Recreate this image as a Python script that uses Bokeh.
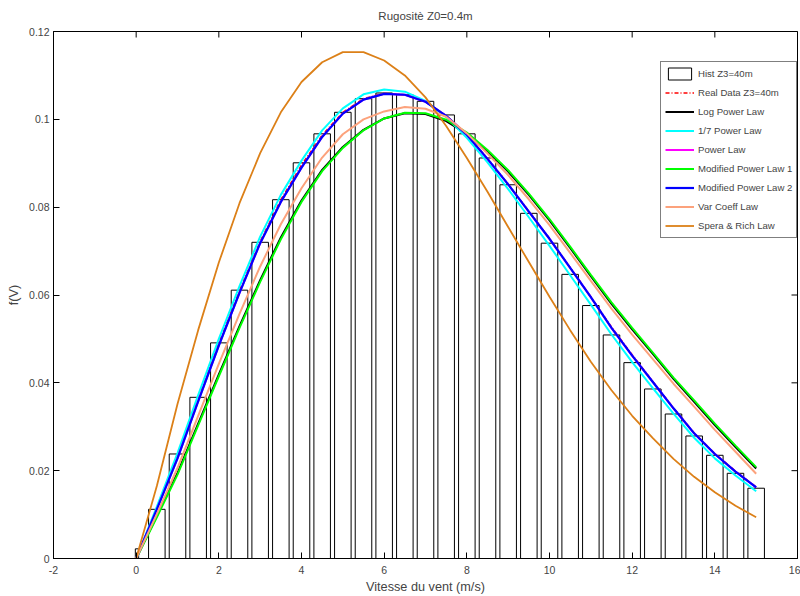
import math
from bokeh.plotting import figure
from bokeh.models import FixedTicker, Legend, LegendItem, Range1d, ColumnDataSource
from bokeh.embed import file_html
from bokeh.resources import INLINE

title_text = "Rugositè Z0=0.4m"
x_label = "Vitesse du vent (m/s)"
y_label = "f(V)"

x_ticks = [-2, 0, 2, 4, 6, 8, 10, 12, 14, 16]
x_tick_labels = ["-2", "0", "2", "4", "6", "8", "10", "12", "14", "16"]
y_ticks = [0, 0.02, 0.04, 0.06, 0.08, 0.1, 0.12]
y_tick_labels = ["0", "0.02", "0.04", "0.06", "0.08", "0.1", "0.12"]

# histogram (bin centres, relative frequency)
bin_centers = [0, 0.5, 1, 1.5, 2, 2.5, 3, 3.5, 4, 4.5, 5, 5.5, 6, 6.5, 7, 7.5,
               8, 8.5, 9, 9.5, 10, 10.5, 11, 11.5, 12, 12.5, 13, 13.5, 14, 14.5, 15]
hist_heights = [0.0022, 0.0112, 0.0238, 0.0367, 0.0491, 0.0611, 0.0720, 0.0817,
                0.0901, 0.0967, 0.1016, 0.1047, 0.1060, 0.1056, 0.1041, 0.1010,
                0.0967, 0.0912, 0.0851, 0.0786, 0.0718, 0.0647, 0.0576, 0.0509,
                0.0446, 0.0386, 0.0329, 0.0279, 0.0235, 0.0194, 0.0160]

# curves
speed = [0, 0.5, 1, 1.5, 2, 2.5, 3, 3.5, 4, 4.5, 5, 5.5, 6, 6.5, 7, 7.5,
         8, 8.5, 9, 9.5, 10, 10.5, 11, 11.5, 12, 12.5, 13, 13.5, 14, 14.5, 15]
real_data = [0, 0.0115, 0.0232, 0.0362, 0.0490, 0.0610, 0.0722, 0.0817, 0.0896,
             0.0964, 0.1016, 0.1047, 0.1059, 0.1056, 0.1040, 0.1008, 0.0965,
             0.0911, 0.0853, 0.0791, 0.0729, 0.0663, 0.0596, 0.0527, 0.0464,
             0.0403, 0.0343, 0.0286, 0.0239, 0.0199, 0.0163]
log_power_law = [0, 0.0097, 0.0195, 0.0307, 0.0419, 0.0529, 0.0634, 0.0731, 0.0815,
                 0.0885, 0.0937, 0.0976, 0.1002, 0.1014, 0.1012, 0.0996, 0.0967,
                 0.0927, 0.0881, 0.0828, 0.0770, 0.0707, 0.0643, 0.0580, 0.0522,
                 0.0466, 0.0409, 0.0357, 0.0304, 0.0254, 0.0205]
seventh_power_law = [0, 0.0118, 0.0240, 0.0372, 0.0500, 0.0620, 0.0733, 0.0828, 0.0906,
                     0.0975, 0.1025, 0.1057, 0.1068, 0.1063, 0.1042, 0.1005, 0.0958,
                     0.0902, 0.0841, 0.0777, 0.0712, 0.0645, 0.0578, 0.0510, 0.0447,
                     0.0388, 0.0330, 0.0275, 0.0228, 0.0189, 0.0153]
power_law = [0, 0.0112, 0.0228, 0.0358, 0.0485, 0.0605, 0.0718, 0.0812, 0.0890,
             0.0960, 0.1013, 0.1045, 0.1058, 0.1056, 0.1040, 0.1008, 0.0965,
             0.0910, 0.0852, 0.0790, 0.0728, 0.0662, 0.0595, 0.0525, 0.0462,
             0.0402, 0.0342, 0.0285, 0.0238, 0.0198, 0.0162]
modified_power_law_1 = [0, 0.0094, 0.0191, 0.0303, 0.0415, 0.0525, 0.0630, 0.0727, 0.0812,
                        0.0882, 0.0935, 0.0975, 0.1002, 0.1015, 0.1014, 0.0999, 0.0970,
                        0.0930, 0.0884, 0.0831, 0.0773, 0.0710, 0.0646, 0.0583, 0.0525,
                        0.0469, 0.0412, 0.0360, 0.0307, 0.0257, 0.0208]
modified_power_law_2 = [0, 0.0112, 0.0228, 0.0358, 0.0485, 0.0605, 0.0718, 0.0812, 0.0890,
                        0.0960, 0.1013, 0.1045, 0.1058, 0.1056, 0.1040, 0.1008, 0.0965,
                        0.0910, 0.0852, 0.0790, 0.0728, 0.0662, 0.0595, 0.0525, 0.0462,
                        0.0402, 0.0342, 0.0285, 0.0238, 0.0198, 0.0162]
var_coeff_law = [0, 0.0101, 0.0206, 0.0325, 0.0443, 0.0557, 0.0665, 0.0761, 0.0843,
                 0.0913, 0.0966, 0.1000, 0.1018, 0.1028, 0.1024, 0.1006, 0.0968,
                 0.0922, 0.0873, 0.0818, 0.0759, 0.0696, 0.0632, 0.0569, 0.0510,
                 0.0454, 0.0398, 0.0346, 0.0293, 0.0243, 0.0193]
spera_rich_law = [0, 0.0165, 0.0352, 0.0520, 0.0674, 0.0809, 0.0923, 0.1016, 0.1085,
                  0.1130, 0.1153, 0.1153, 0.1134, 0.1100, 0.1050, 0.0985, 0.0912,
                  0.0835, 0.0755, 0.0675, 0.0596, 0.0520, 0.0448, 0.0383, 0.0325,
                  0.0274, 0.0227, 0.0186, 0.0151, 0.0120, 0.0094]

FONT = "Liberation Sans"
X_MIN, X_MAX = x_ticks[0], x_ticks[-1]
Y_MIN, Y_MAX = y_ticks[0], y_ticks[-1]

p = figure(width=800, height=596, output_backend="svg", toolbar_location=None,
           x_range=Range1d(X_MIN, X_MAX), y_range=Range1d(Y_MIN, Y_MAX),
           min_border_left=53, min_border_right=3, min_border_top=31, min_border_bottom=38,
           title=title_text)
p.title.align = "center"
p.title.vertical_align = "top"
p.title.text_font = FONT
p.title.text_font_size = "11.5px"
p.title.text_font_style = "normal"
p.title.standoff = 16
p.xgrid.visible = False
p.ygrid.visible = False
p.outline_line_color = "black"
p.outline_line_width = 1
p.background_fill_color = "white"
p.border_fill_color = "white"

for ax, ticks, labels, lab in ((p.xaxis[0], x_ticks, x_tick_labels, x_label),
                               (p.yaxis[0], y_ticks, y_tick_labels, y_label)):
    ax.ticker = FixedTicker(ticks=ticks)
    ax.major_label_overrides = {t: l for t, l in zip(ticks, labels)}
    ax.axis_label = lab
    ax.axis_label_text_font = FONT
    ax.axis_label_text_font_size = "12.7px"
    ax.axis_label_text_font_style = "normal"
    ax.major_label_text_font = FONT
    ax.major_label_text_font_size = "10.5px"
    ax.major_tick_in = 6
    ax.major_tick_out = 0
    ax.minor_tick_line_color = None
    ax.axis_line_color = "black"
    ax.major_tick_line_color = "black"

p.xaxis.major_label_standoff = 7
p.xaxis.axis_label_standoff = 3
p.yaxis.major_label_standoff = 4
p.yaxis.axis_label_standoff = 5

# mirrored inward ticks on the top and right edges (box style)
p.scatter(x=x_ticks, y=[Y_MAX] * len(x_ticks), marker="dash", angle=math.pi / 2,
          size=12, line_color="black", line_width=1)
p.scatter(x=[X_MAX] * len(y_ticks), y=y_ticks, marker="dash",
          size=12, line_color="black", line_width=1)

half = 0.2
left = [max(c - half, -0.02) for c in bin_centers]
right = [c + half if c > 0 else 0.06 for c in bin_centers]
hsrc = ColumnDataSource(dict(left=left, right=right, top=hist_heights, bottom=[0] * len(hist_heights)))
r_hist = p.quad(left="left", right="right", top="top", bottom="bottom", source=hsrc,
                fill_color="white", line_color="black", line_width=1)

csrc = ColumnDataSource(dict(x=speed, real=real_data, logp=log_power_law, sev=seventh_power_law,
                             pw=power_law, m1=modified_power_law_1, m2=modified_power_law_2,
                             vc=var_coeff_law, sr=spera_rich_law))

r_real = p.line("x", "real", source=csrc, line_color="#ff0000", line_width=1.5, line_dash="4 2 1 2")
r_log = p.line("x", "logp", source=csrc, line_color="black", line_width=2)
r_sev = p.line("x", "sev", source=csrc, line_color="#00ffff", line_width=2)
r_pw = p.line("x", "pw", source=csrc, line_color="#ff00ff", line_width=2)
r_m1 = p.line("x", "m1", source=csrc, line_color="#00ff00", line_width=2)
r_m2 = p.line("x", "m2", source=csrc, line_color="#0000ff", line_width=2.2)
r_vc = p.line("x", "vc", source=csrc, line_color="#fca27c", line_width=2)
r_sr = p.line("x", "sr", source=csrc, line_color="#dc8018", line_width=1.8)

legend = Legend(items=[
    LegendItem(label="Hist Z3=40m", renderers=[r_hist]),
    LegendItem(label="Real Data Z3=40m", renderers=[r_real]),
    LegendItem(label="Log Power Law", renderers=[r_log]),
    LegendItem(label="1/7 Power Law", renderers=[r_sev]),
    LegendItem(label="Power Law", renderers=[r_pw]),
    LegendItem(label="Modified Power Law 1", renderers=[r_m1]),
    LegendItem(label="Modified Power Law 2", renderers=[r_m2]),
    LegendItem(label="Var Coeff Law", renderers=[r_vc]),
    LegendItem(label="Spera & Rich Law", renderers=[r_sr]),
], location=(607, 320))
legend.label_text_font = FONT
legend.label_text_font_size = "9.6px"
legend.glyph_width = 29
legend.glyph_height = 15
legend.label_height = 15
legend.spacing = 4
legend.padding = 4
legend.margin = 0
legend.label_standoff = 4
legend.border_line_color = "black"
legend.border_line_width = 1
legend.background_fill_color = "white"
legend.background_fill_alpha = 1
p.add_layout(legend)

open("out.html", "w").write(file_html(p, INLINE))
